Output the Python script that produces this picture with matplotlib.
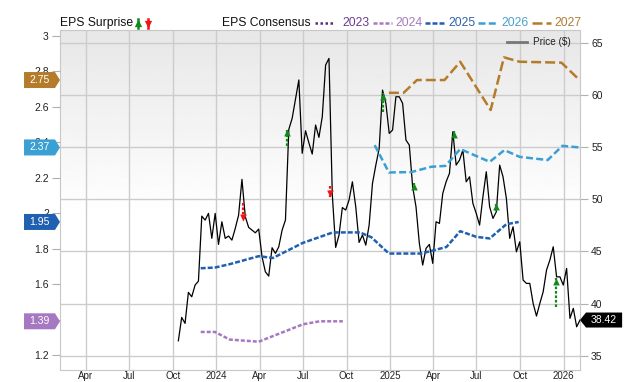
import numpy as np
import pandas as pd
import matplotlib
matplotlib.use("Agg")
import matplotlib.pyplot as plt
from matplotlib.lines import Line2D
from matplotlib.patches import Polygon
from matplotlib.ticker import FuncFormatter
from matplotlib.transforms import blended_transform_factory

plt.rcParams["font.family"] = ["Liberation Sans", "DejaVu Sans"]

# weekly closing price ($)
price = [36.43, 38.67, 38.1, 41.07, 40.65, 41.77, 42.15, 48.38, 48.0, 48.64,
         46.25, 48.64, 45.67, 47.84, 46.25, 46.47, 46.08, 47.2, 48.48, 51.9,
         48.32, 47.3, 47.04, 46.78, 47.14, 44.48, 43.04, 42.63, 45.35, 44.81,
         45.44, 47.04, 48.0, 56.7, 57.75, 59.6, 61.43, 54.4, 56.56, 55.4,
         54.33, 57.11, 55.93, 57.91, 62.86, 63.5, 50.4, 45.38, 46.56, 49.2,
         48.96, 49.92, 51.67, 49.28, 45.86, 46.56, 45.6, 47.52, 51.52, 53.27,
         54.87, 60.46, 59.19, 56.31, 56.63, 59.82, 59.82, 59.19, 55.67, 55.19,
         51.19, 49.28, 45.77, 43.69, 45.29, 45.67, 43.85, 47.84, 47.68, 50.56,
         51.67, 52.48, 56.47, 53.27, 53.75, 54.71, 51.67, 52.15, 49.6, 48.64,
         47.52, 50.24, 52.63, 49.28, 48.16, 48.8, 53.27, 52.15, 50.08, 46.25,
         47.36, 44.96, 45.92, 42.25, 41.93, 41.93, 40.01, 38.8, 40.01, 41.13,
         43.21, 44.17, 45.44, 42.56, 42.56, 41.77, 43.37, 38.58, 39.54, 37.77,
         38.42]
price_start = "2023-10-13"
price_end = "2026-02-04"

# EPS consensus by fiscal year
eps23_dates = []
eps23 = []
eps24_dates = ["2023-11-29", "2023-12-29", "2024-01-29", "2024-03-30",
               "2024-07-01", "2024-08-05", "2024-09-23"]
eps24 = [1.33, 1.33, 1.287, 1.275, 1.373, 1.39, 1.39]
eps25_dates = ["2023-11-29", "2023-12-29", "2024-01-29", "2024-03-30",
               "2024-04-29", "2024-07-01", "2024-09-02", "2024-10-29",
               "2024-11-22", "2024-12-29", "2025-03-07", "2025-04-29",
               "2025-05-28", "2025-07-01", "2025-07-29", "2025-09-02",
               "2025-09-28"]
eps25 = [1.689, 1.693, 1.712, 1.757, 1.747, 1.832, 1.891, 1.891, 1.864,
         1.772, 1.772, 1.809, 1.898, 1.866, 1.857, 1.937, 1.95]
eps26_dates = ["2024-11-29", "2024-12-29", "2025-02-14", "2025-03-28",
               "2025-04-27", "2025-05-28", "2025-07-29", "2025-08-29",
               "2025-09-30", "2025-11-28", "2025-12-29", "2026-02-03"]
eps26 = [2.383, 2.229, 2.231, 2.261, 2.266, 2.361, 2.289, 2.355, 2.317,
         2.299, 2.379, 2.37]
eps27_dates = ["2024-12-29", "2025-01-29", "2025-02-26", "2025-04-25",
               "2025-05-28", "2025-07-31", "2025-08-28", "2025-09-30",
               "2025-12-27", "2026-02-03"]
eps27 = [2.678, 2.678, 2.75, 2.75, 2.853, 2.581, 2.878, 2.853, 2.848, 2.75]

# EPS surprise arrows, drawn on the price scale
surprise_dates = ["2024-02-27", "2024-05-29", "2024-08-26", "2024-12-16",
                  "2025-02-19", "2025-05-14", "2025-08-12", "2025-12-16"]
surprise_from = [49.6, 55.1, 51.25, 58.4, 50.88, 55.84, 48.9, 39.7]
surprise_to = [47.9, 56.7, 50.2, 60.2, 51.58, 56.54, 49.6, 42.42]

years = ["2023", "2024", "2025", "2026", "2027"]
line_colors = ["#5b2d82", "#a678c2", "#2060b0", "#3aa0d4", "#b47b2a"]
text_colors = ["#6b3d8e", "#a57bbd", "#2f63a8", "#4aa0cc", "#ad7d33"]
line_dashes = [(1.0, 1.0), (1.6, 0.8), (2.0, 0.8), (2.8, 1.3), (4.0, 1.6)]

price_ticks = [35, 40, 45, 50, 55, 60, 65]
eps_ticks = [1.2, 1.4, 1.6, 1.8, 2.0, 2.2, 2.4, 2.6, 2.8, 3.0]
tick_dates = pd.date_range("2023-04-01", "2026-01-01", freq="QS")
tick_labels = [d.strftime("%Y") if d.month == 1 else d.strftime("%b") for d in tick_dates]

W, H = 640, 382
fx = lambda px: px / W
fy = lambda py: 1 - py / H

fig = plt.figure(figsize=(6.4, 3.82), dpi=100)
rect = [fx(60), fy(370), 520 / W, 340 / H]

# gray-to-white background
bg = fig.add_axes(rect, zorder=-1)
yy = np.linspace(0, 1, 300)
shade = np.where(yy < 0.45, 1.0, 1.0 - (yy - 0.45) / 0.55 * 0.095)
bg.imshow(shade[:, None], cmap="gray", vmin=0, vmax=1, aspect="auto",
          origin="lower", extent=[0, 1, 0, 1])
bg.axis("off")

ax = fig.add_axes(rect)
ax.set_facecolor("none")
pdates = pd.date_range(price_start, price_end, periods=len(price))
ax.plot(pdates, price, color="black", lw=0.9, zorder=3)

for d, y0, y1 in zip(pd.to_datetime(surprise_dates), surprise_from, surprise_to):
    c = "#12891a" if y1 > y0 else "#f01414"
    head = [(-1, -2.1), (1, -2.1), (0, 0)] if y1 > y0 else [(-1, 2.1), (1, 2.1), (0, 0)]
    ax.plot([d, d], [y0, y1], color=c, lw=1.6, dashes=(1.2, 0.8), zorder=4)
    ax.plot([d], [y1], marker=head, ms=10, color=c, mew=0, zorder=5)

ax.set_xlim(pd.Timestamp("2023-02-06"), pd.Timestamp("2026-02-04"))
ax.set_ylim(33.63, 66.22)
ax.set_xticks(tick_dates)
ax.set_xticklabels(tick_labels)
ax.set_yticks(price_ticks)
ax.grid(True, color="#cccccc", lw=1.0)
ax.set_axisbelow(True)

ax_eps = ax.twinx()
ax.yaxis.tick_right()
ax_eps.yaxis.tick_left()
ax_eps.yaxis.set_label_position("left")

eps_series = [(eps23_dates, eps23), (eps24_dates, eps24), (eps25_dates, eps25),
              (eps26_dates, eps26), (eps27_dates, eps27)]
for (ds, vs), c, dsh in zip(eps_series, line_colors, line_dashes):
    if len(vs):
        ax_eps.plot(pd.to_datetime(ds), vs, color=c, lw=1.8, dashes=dsh, zorder=3)
ax_eps.set_ylim(1.1155, 3.032)
ax_eps.set_yticks(eps_ticks)
ax_eps.yaxis.set_major_formatter(FuncFormatter(lambda v, p: f"{v:g}"))
ax_eps.set_xlim(ax.get_xlim())

for s in ax.spines.values():
    s.set_color("#c8c8c8")
for s in ax_eps.spines.values():
    s.set_visible(False)
ax.tick_params(axis="x", length=0, pad=1, labelsize=7, labelcolor="#222222")
ax.tick_params(axis="y", length=6, width=0.8, color="#b0b0b0", labelsize=7.5,
               pad=2, labelcolor="#222222")
ax_eps.tick_params(axis="y", length=6, width=0.8, color="#b0b0b0", labelsize=7.5,
                   pad=2, labelcolor="#222222")

# last-value tags on the EPS axis
tr = blended_transform_factory(ax_eps.transAxes, ax_eps.transData)
h = 8 * (3.032 - 1.1155) / 340
for (ds, vs), c in zip(eps_series, line_colors):
    if not len(vs):
        continue
    v = vs[-1]
    pts = [(-0.0692, v - h), (-0.0096, v - h), (0, v), (-0.0096, v + h), (-0.0692, v + h)]
    ax_eps.add_patch(Polygon(pts, closed=True, fc=c, ec="none", transform=tr,
                             clip_on=False, zorder=10))
    ax_eps.text(-0.0394, v, f"{v:.2f}", transform=tr, color="white", fontsize=7.5,
                ha="center", va="center", zorder=11, clip_on=False)

# last price tag
tr2 = blended_transform_factory(ax.transAxes, ax.transData)
p = price[-1]
h2 = 7.5 * (66.22 - 33.63) / 340
pts = [(1.0, p), (1.0115, p + h2), (1.081, p + h2), (1.081, p - h2), (1.0115, p - h2)]
ax.add_patch(Polygon(pts, closed=True, fc="black", ec="none", transform=tr2,
                     clip_on=False, zorder=10))
ax.text(1.046, p, f"{p:.2f}", transform=tr2, color="white", fontsize=7.5,
        ha="center", va="center", zorder=11, clip_on=False)

# top legend
fig.text(fx(60), fy(22.8), "EPS Surprise", fontsize=8.7, color="#111111",
         ha="left", va="center")
for xc, up, c in [(138, True, "#12891a"), (148, False, "#f01414")]:
    ytail, ytip = (27.5, 18.5) if up else (18.5, 27.5)
    head = [(-1, -2.1), (1, -2.1), (0, 0)] if up else [(-1, 2.1), (1, 2.1), (0, 0)]
    fig.add_artist(Line2D([fx(xc), fx(xc)], [fy(ytail), fy(ytip)], color=c, lw=1.8,
                          transform=fig.transFigure))
    fig.add_artist(Line2D([fx(xc)], [fy(ytip)], marker=head, ms=11, color=c, mew=0,
                          transform=fig.transFigure))

fig.text(fx(221.7), fy(22.8), "EPS Consensus", fontsize=8.7, color="#111111",
         ha="left", va="center")
leg_lines = [(315, 335), (372.7, 391.7), (425, 445), (478.3, 496), (531.7, 550.7)]
leg_text_x = [342, 395, 448.3, 501, 554]
for yr, c, tc, dsh, (x0, x1), tx in zip(years, line_colors, text_colors, line_dashes,
                                         leg_lines, leg_text_x):
    fig.add_artist(Line2D([fx(x0), fx(x1)], [fy(22.5), fy(22.5)], color=c, lw=1.8,
                          dashes=dsh, transform=fig.transFigure))
    fig.text(fx(tx), fy(22.8), yr, fontsize=8.7, color=tc, ha="left", va="center")

fig.add_artist(Line2D([fx(506.7), fx(526.7)], [fy(41.5), fy(41.5)], color="#777777",
                      lw=2, transform=fig.transFigure))
fig.text(fx(532.7), fy(41.7), "Price ($)", fontsize=7.2, color="#222222",
         ha="left", va="center")

fig.savefig("out.png", dpi=100)
